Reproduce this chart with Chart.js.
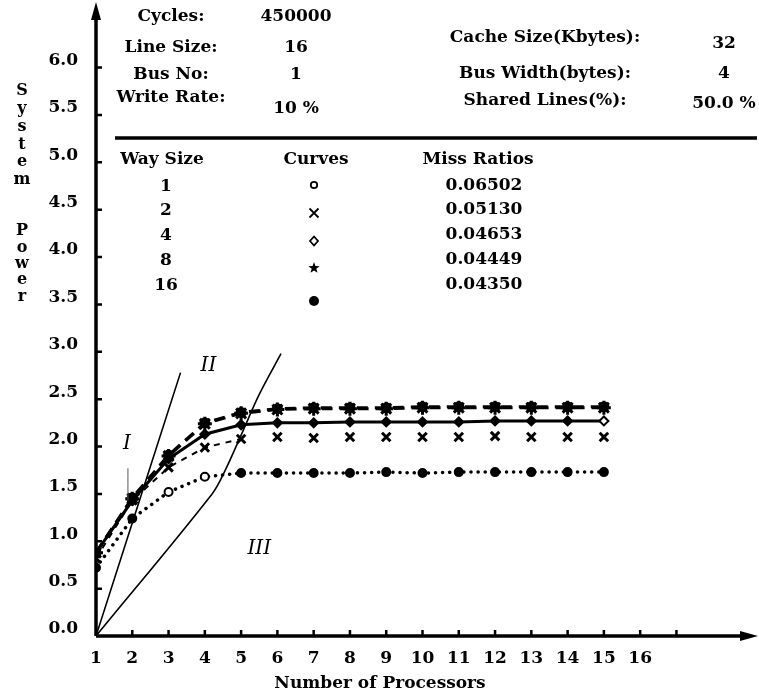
<!DOCTYPE html>
<html>
<head>
<meta charset="utf-8">
<script src="https://cdn.jsdelivr.net/npm/chart.js@4.4.1/dist/chart.umd.min.js"></script>
<style>
  html, body { margin: 0; padding: 0; background: #fff; }
  #wrap { width: 759px; height: 698px; }
</style>
</head>
<body>
<div id="wrap"><canvas id="chart" width="759" height="698"></canvas></div>
<script>
// values
const processors = [1, 2, 3, 4, 5, 6, 7, 8, 9, 10, 11, 12, 13, 14, 15]
const way1 = [0.72, 1.24, 1.52, 1.68, 1.72, 1.72, 1.72, 1.72, 1.73, 1.72, 1.73, 1.73, 1.73, 1.73, 1.73]
const way2 = [0.82, 1.43, 1.78, 1.99, 2.08, 2.10, 2.09, 2.10, 2.10, 2.10, 2.10, 2.11, 2.10, 2.10, 2.10]
const way4 = [0.88, 1.43, 1.87, 2.13, 2.23, 2.25, 2.25, 2.26, 2.26, 2.26, 2.26, 2.27, 2.27, 2.27, 2.27]
const way8 = [0.88, 1.45, 1.90, 2.24, 2.35, 2.39, 2.40, 2.40, 2.40, 2.41, 2.41, 2.41, 2.41, 2.41, 2.41]
const way16 = [0.88, 1.46, 1.91, 2.25, 2.36, 2.40, 2.41, 2.41, 2.41, 2.42, 2.42, 2.42, 2.42, 2.42, 2.42]

// bound lines drawn from the origin
const lineII = [{x: 1, y: 0}, {x: 3.33, y: 2.78}]
const lineIII = [{x: 1, y: 0}, {x: 4.2, y: 1.5}, {x: 4.55, y: 1.74}, {x: 5, y: 2.12}, {x: 5.5, y: 2.55}, {x: 6.1, y: 2.98}]
const lineI = [{x: 1.88, y: 1.43}, {x: 1.88, y: 1.77}]
const regionLabels = [{t: 'I', x: 1.85, y: 2.03}, {t: 'II', x: 4.1, y: 2.85}, {t: 'III', x: 5.5, y: 0.92}]

const yTicks = [0, 0.5, 1, 1.5, 2, 2.5, 3, 3.5, 4, 4.5, 5, 5.5, 6]
const xTickMax = 16

const infoLeft = [['Cycles:', '450000'], ['Line Size:', '16'], ['Bus No:', '1'], ['Write Rate:', '10 %']]
const infoRight = [['Cache Size(Kbytes):', '32'], ['Bus Width(bytes):', '4'], ['Shared Lines(%):', '50.0 %']]
const waySizes = ['1', '2', '4', '8', '16']
const missRatios = ['0.06502', '0.05130', '0.04653', '0.04449', '0.04350']

const FONT = '"DejaVu Serif", serif'
const pts = arr => processors.map((p, i) => ({x: p, y: arr[i]}))

const thin = data => ({
  data, borderColor: '#000', borderWidth: 1.6, pointRadius: 0, tension: 0.35, fill: false
})

// small symbols of the "Curves" column
function symbol(ctx, i, cx, cy) {
  ctx.beginPath()
  ctx.lineWidth = 1.8
  if (i === 0) {
    ctx.arc(cx, cy, 3.2, 0, Math.PI * 2); ctx.stroke()
  } else if (i === 1) {
    ctx.moveTo(cx - 4.5, cy - 4.5); ctx.lineTo(cx + 4.5, cy + 4.5)
    ctx.moveTo(cx + 4.5, cy - 4.5); ctx.lineTo(cx - 4.5, cy + 4.5); ctx.stroke()
  } else if (i === 2) {
    ctx.moveTo(cx, cy - 4.5); ctx.lineTo(cx + 4, cy); ctx.lineTo(cx, cy + 4.5); ctx.lineTo(cx - 4, cy)
    ctx.closePath(); ctx.stroke()
  } else if (i === 3) {
    for (let k = 0; k < 10; k++) {
      const r = k % 2 ? 2.4 : 6, a = -Math.PI / 2 + k * Math.PI / 5
      ctx.lineTo(cx + r * Math.cos(a), cy + r * Math.sin(a))
    }
    ctx.closePath(); ctx.fill()
  } else {
    ctx.arc(cx, cy, 5, 0, Math.PI * 2); ctx.fill()
  }
}

const decor = {
  id: 'decor',
  afterDraw(chart) {
    const {ctx, scales: {x, y}} = chart
    const x0 = x.getPixelForValue(1), y0 = y.getPixelForValue(0)
    ctx.save()
    ctx.strokeStyle = '#000'
    ctx.fillStyle = '#000'
    // axes with arrows
    ctx.lineWidth = 3.5
    ctx.beginPath()
    ctx.moveTo(x0, y0); ctx.lineTo(x0, 12)
    ctx.moveTo(x0, y0); ctx.lineTo(748, y0)
    ctx.stroke()
    ctx.beginPath()
    ctx.moveTo(x0, 2); ctx.lineTo(x0 - 5, 20); ctx.lineTo(x0 + 5, 20); ctx.closePath()
    ctx.moveTo(758, y0); ctx.lineTo(740, y0 - 5); ctx.lineTo(740, y0 + 5); ctx.closePath()
    ctx.fill()
    // inward ticks
    ctx.lineWidth = 2.5
    ctx.beginPath()
    yTicks.slice(1).forEach(v => {
      const py = y.getPixelForValue(v)
      ctx.moveTo(x0, py); ctx.lineTo(x0 + 6, py)
    })
    for (let v = 2; v <= 17; v++) {
      const px = x.getPixelForValue(v)
      ctx.moveTo(px, y0); ctx.lineTo(px, y0 - 6)
    }
    ctx.stroke()

    // region labels
    ctx.font = 'italic 20px ' + FONT
    ctx.textAlign = 'center'
    ctx.textBaseline = 'middle'
    regionLabels.forEach(l => ctx.fillText(l.t, x.getPixelForValue(l.x), y.getPixelForValue(l.y)))

    // vertical axis title
    ctx.font = 'bold 16px ' + FONT
    'System'.split('').forEach((c, i) => ctx.fillText(c, 22, 91 + i * 17.8))
    'Power'.split('').forEach((c, i) => ctx.fillText(c, 22, 231 + i * 16.4))

    // x axis title
    ctx.font = 'bold 17px ' + FONT
    ctx.fillText('Number of Processors', 380, 684)

    // parameter block
    const lx = [171, 296], ly = [17, 48, 75, 98]
    infoLeft.forEach((r, i) => {
      ctx.fillText(r[0], lx[0], ly[i])
      ctx.fillText(r[1], lx[1], i === 3 ? 109 : ly[i])
    })
    const rx = [545, 724], ry = [38, 74, 101]
    infoRight.forEach((r, i) => {
      ctx.fillText(r[0], rx[0], ry[i])
      ctx.fillText(r[1], rx[1], ry[i] + (i === 0 ? 6 : i === 2 ? 3 : 0))
    })
    ctx.lineWidth = 3.5
    ctx.beginPath(); ctx.moveTo(115, 138); ctx.lineTo(757, 138); ctx.stroke()

    // way size table
    ctx.fillText('Way Size', 162, 160)
    ctx.fillText('Curves', 316, 160)
    ctx.fillText('Miss Ratios', 478, 160)
    const rows = [187, 211, 236, 261, 286]
    const sym = [185, 213, 241, 268, 301]
    waySizes.forEach((w, i) => {
      ctx.fillText(w, 166, rows[i])
      ctx.fillText(missRatios[i], 484, rows[i] - 1)
      symbol(ctx, i, 314, sym[i])
    })
    ctx.restore()
  }
}

new Chart(document.getElementById('chart'), {
  type: 'line',
  data: {
    datasets: [
      thin(lineII),
      thin(lineIII),
      {...thin(lineI), borderWidth: 1, borderColor: '#555'},
      {
        label: '1', data: pts(way1), borderColor: '#000', borderWidth: 3.5,
        borderDash: [0.1, 7], borderCapStyle: 'round',
        pointStyle: 'circle', pointRadius: 4, pointBorderWidth: 2, pointBorderColor: '#000',
        pointBackgroundColor: processors.map(p => (p === 3 || p === 4) ? '#fff' : '#000')
      },
      {
        label: '2', data: pts(way2), borderColor: '#000', borderWidth: 2, borderDash: [6, 6],
        segment: {borderColor: c => c.p0.parsed.x >= 5 ? 'rgba(0,0,0,0)' : '#000'},
        pointStyle: 'crossRot', pointRadius: 6, pointBorderWidth: 3, pointBorderColor: '#000'
      },
      {
        label: '4', data: pts(way4), borderColor: '#000', borderWidth: 3,
        pointStyle: 'rectRot', pointRadius: 4.5, pointBorderWidth: 2, pointBorderColor: '#000',
        pointBackgroundColor: processors.map(p => p === 15 ? '#fff' : '#000')
      },
      {
        label: '8', data: pts(way8), borderColor: '#000', borderWidth: 3, borderDash: [11, 7],
        pointStyle: 'star', pointRadius: 7, pointBorderWidth: 3, pointBorderColor: '#000'
      },
      {
        label: '16', data: pts(way16), borderColor: '#000', borderWidth: 3, borderDash: [11, 7],
        pointStyle: 'circle', pointRadius: 4, pointBackgroundColor: '#000', pointBorderColor: '#000'
      }
    ]
  },
  options: {
    responsive: false,
    animation: false,
    events: [],
    layout: {padding: {top: 18.5, right: 8, left: 0, bottom: 0}},
    plugins: {legend: {display: false}, tooltip: {enabled: false}},
    scales: {
      x: {
        type: 'linear', min: 1, max: 19,
        grid: {display: false}, border: {display: false},
        afterFit: s => { s.height = 62 },
        ticks: {
          stepSize: 1, padding: 4, color: '#000',
          font: {family: FONT, size: 17, weight: 'bold'},
          callback: v => v <= xTickMax ? String(v) : ''
        }
      },
      y: {
        type: 'linear', min: 0, max: 6.5,
        grid: {display: false}, border: {display: false},
        afterFit: s => { s.width = 96 },
        ticks: {
          stepSize: 0.5, padding: 10, labelOffset: -7, color: '#000',
          font: {family: FONT, size: 17, weight: 'bold'},
          callback: v => yTicks.includes(v) ? v.toFixed(1) : ''
        }
      }
    }
  },
  plugins: [decor]
})
</script>
</body>
</html>
